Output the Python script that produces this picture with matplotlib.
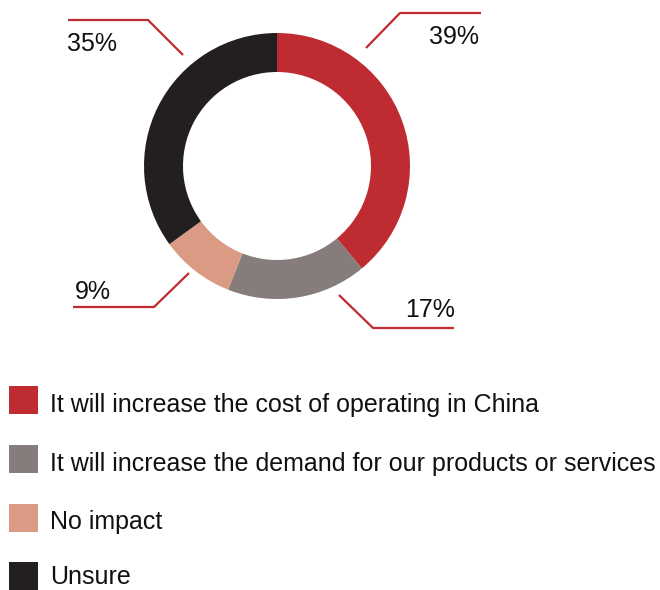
import matplotlib
matplotlib.use("Agg")
import matplotlib.pyplot as plt
from matplotlib.patches import Rectangle

# Survey responses (share of respondents, %)
categories = [
    "It will increase the cost of operating in China",
    "It will increase the demand for our products or services",
    "No impact",
    "Unsure",
]
values = [39, 17, 9, 35]
colors = ["#BE2B31", "#857C7B", "#DB9A83", "#231F20"]

W, H = 660, 590
plt.rcParams["font.family"] = ["Liberation Sans", "DejaVu Sans"]

fig = plt.figure(figsize=(W / 100, H / 100), dpi=100)
ax = fig.add_axes([0, 0, 1, 1])

def py(y):
    # convert a top-down pixel row into data y
    return H - y

# donut
cx, cy, r_out, ring = 277, 166, 133, 39
ax.pie(values, colors=colors, startangle=90, counterclock=False,
       center=(cx, py(cy)), radius=r_out,
       wedgeprops=dict(width=ring, linewidth=0), frame=True)

# leader lines: (start on ring, elbow, end) and label anchor
line_red = "#BE2B31"
leaders = [
    # value index, points, text x, text baseline, ha
    (0, [(366, 48), (400, 13), (481, 13)], 479, 44, "right"),
    (1, [(339, 295), (373, 328), (454, 328)], 455, 317, "right"),
    (2, [(189, 273), (154, 307), (73, 307)], 75, 299, "left"),
    (3, [(183, 55), (148, 20), (68, 20)], 67, 51, "left"),
]
for idx, pts, tx, ty, ha in leaders:
    xs = [p[0] for p in pts]
    ys = [py(p[1]) for p in pts]
    ax.plot(xs, ys, color=line_red, lw=1.6, solid_capstyle="butt")
    ax.text(tx, py(ty), f"{values[idx]}%", ha=ha, va="baseline",
            fontsize=18, color="#111111")

# legend (square centre row, text baseline row)
row_y = [400, 459, 517.5, 575.5]
text_base = [412, 471, 529.5, 584.5]
for lab, col, ry, tb in zip(categories, colors, row_y, text_base):
    ax.add_patch(Rectangle((9, py(ry + 14)), 29, 28, color=col, lw=0))
    ax.text(50, py(tb), lab, ha="left", va="baseline",
            fontsize=18, color="#111111")

ax.set_xlim(0, W)
ax.set_ylim(0, H)
ax.set_aspect("auto")
ax.axis("off")

fig.savefig("out.png", dpi=100)
